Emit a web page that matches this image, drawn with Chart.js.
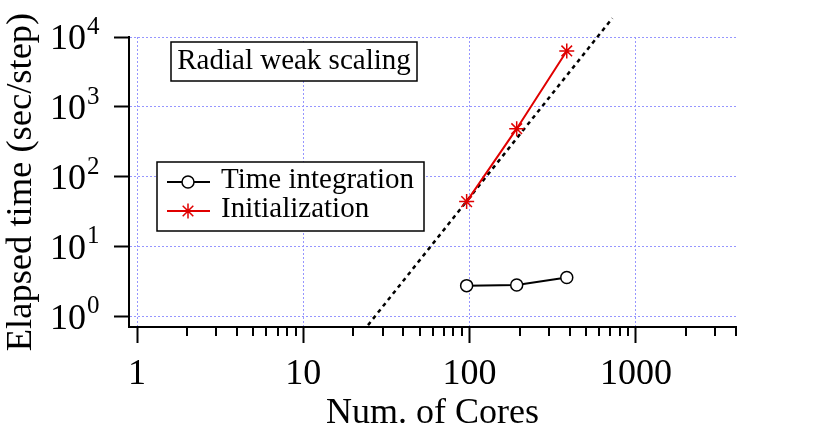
<!DOCTYPE html>
<html>
<head>
<meta charset="utf-8">
<script src="https://cdn.jsdelivr.net/npm/chart.js@4.4.1/dist/chart.umd.min.js"></script>
<style>
  html, body { margin: 0; padding: 0; background: #fff; }
</style>
</head>
<body>
<canvas id="chart" width="820" height="431"></canvas>
<script>
// data
var cores = [96, 192, 384];
var timeIntegration = [2.74, 2.79, 3.59];
var initialization = [43.8, 486, 6310];
// guide line (dotted), its two ends
var idealCores = [24.5, 722];
var idealTime = [0.745, 18600];

var xMajorTicks = [1, 10, 100, 1000];
var xTickLabels = ['1', '10', '100', '1000'];
var xMinorTicks = [2, 3, 4, 5, 6, 7, 8, 9, 20, 30, 40, 50, 60, 70, 80, 90,
                   200, 300, 400, 500, 600, 700, 800, 900, 2000, 3000, 4000];
var yTicks = [1, 10, 100, 1000, 10000];
var yExponents = ['0', '1', '2', '3', '4'];

var serif = '"Liberation Serif", "Times New Roman", serif';
var gridColor = 'rgb(150,150,255)';
var red = '#e00000';

function toPoints(xs, ys) {
    var pts = [];
    for (var i = 0; i < xs.length; i++) {
        pts.push({x: xs[i], y: ys[i]});
    }
    return pts;
}

function isMajor(v) {
    return xMajorTicks.indexOf(v) >= 0;
}

// short minor ticks on x, exponents on y, title and legend boxes
var extrasPlugin = {
    id: 'extras',
    afterDraw: function(chart) {
        var ctx = chart.ctx;
        var xs = chart.scales.x, ys = chart.scales.y;
        ctx.save();
        ctx.strokeStyle = '#000';
        ctx.lineWidth = 2;
        xMinorTicks.forEach(function(v) {
            var px = Math.round(xs.getPixelForValue(v));
            ctx.beginPath();
            ctx.moveTo(px, xs.top);
            ctx.lineTo(px, xs.top + 9);
            ctx.stroke();
        });

        ctx.fillStyle = '#000';
        ctx.font = '25px ' + serif;
        ctx.textAlign = 'left';
        ctx.textBaseline = 'alphabetic';
        yTicks.forEach(function(v, i) {
            var py = ys.getPixelForValue(v);
            ctx.fillText(yExponents[i], 87, py - 3);
        });

        var a = chart.chartArea;
        // title box
        ctx.lineWidth = 1.5;
        ctx.fillStyle = '#fff';
        ctx.fillRect(a.left + 42, 42, 246, 39);
        ctx.strokeRect(a.left + 42, 42, 246, 39);
        ctx.fillStyle = '#000';
        ctx.font = '29px ' + serif;
        ctx.textAlign = 'center';
        ctx.textBaseline = 'middle';
        ctx.fillText('Radial weak scaling', a.left + 165, 61);

        // legend box
        ctx.fillStyle = '#fff';
        ctx.fillRect(a.left + 28, 162, 267, 69);
        ctx.strokeRect(a.left + 28, 162, 267, 69);
        var rows = [182, 211];
        for (var i = 0; i < 2; i++) {
            var ds = chart.data.datasets[i];
            var ry = rows[i];
            ctx.strokeStyle = ds.borderColor;
            ctx.lineWidth = 2;
            ctx.beginPath();
            ctx.moveTo(a.left + 38, ry);
            ctx.lineTo(a.left + 81, ry);
            ctx.stroke();
            ctx.fillStyle = ds.pointBackgroundColor;
            ctx.lineWidth = ds.pointBorderWidth;
            Chart.helpers.drawPoint(ctx, {
                pointStyle: ds.pointStyle,
                radius: ds.pointRadius,
                rotation: 0,
                borderWidth: ds.pointBorderWidth
            }, a.left + 59, ry);
            ctx.fillStyle = '#000';
            ctx.font = '29px ' + serif;
            ctx.textAlign = 'left';
            ctx.textBaseline = 'middle';
            ctx.fillText(ds.label, a.left + 92, ry - 2);
        }
        ctx.restore();
    }
};

var ctx = document.getElementById('chart').getContext('2d');
var chart = new Chart(ctx, {
    type: 'scatter',
    data: {
        datasets: [{
            label: 'Time integration',
            data: toPoints(cores, timeIntegration),
            showLine: true,
            borderColor: '#000',
            borderWidth: 2,
            pointStyle: 'circle',
            pointRadius: 6,
            pointBorderWidth: 1.5,
            pointBorderColor: '#000',
            pointBackgroundColor: '#fff'
        }, {
            label: 'Initialization',
            data: toPoints(cores, initialization),
            showLine: true,
            borderColor: red,
            borderWidth: 2,
            pointStyle: 'star',
            pointRadius: 7.5,
            pointBorderWidth: 1.5,
            pointBorderColor: red,
            pointBackgroundColor: red
        }, {
            label: 'ideal',
            data: toPoints(idealCores, idealTime),
            showLine: true,
            borderColor: '#000',
            borderWidth: 2.5,
            borderDash: [4, 4],
            pointRadius: 0,
            clip: false
        }]
    },
    options: {
        responsive: false,
        devicePixelRatio: 1,
        animation: false,
        layout: { padding: { top: 37, right: 84, bottom: -4, left: 0 } },
        plugins: {
            legend: { display: false },
            tooltip: { enabled: false }
        },
        scales: {
            x: {
                type: 'logarithmic',
                min: 0.895,
                max: 4000,
                afterBuildTicks: function(axis) {
                    var all = xMajorTicks.concat(xMinorTicks).sort(function(p, q) { return p - q; });
                    axis.ticks = all.map(function(v) { return {value: v}; });
                },
                afterFit: function(axis) {
                    axis.height = 108;
                    axis.paddingLeft = 0;
                    axis.paddingRight = 0;
                },
                ticks: {
                    autoSkip: false,
                    maxRotation: 0,
                    padding: 10,
                    color: '#000',
                    font: { family: serif, size: 36 },
                    callback: function(value) {
                        var k = xMajorTicks.indexOf(value);
                        return k >= 0 ? xTickLabels[k] : '';
                    }
                },
                grid: {
                    color: function(c) { return c.tick && isMajor(c.tick.value) ? gridColor : 'rgba(0,0,0,0)'; },
                    tickColor: function(c) { return c.tick && isMajor(c.tick.value) ? '#000' : 'rgba(0,0,0,0)'; },
                    lineWidth: 1,
                    tickLength: 16,
                    tickWidth: 2
                },
                border: { color: '#000', width: 2, dash: [2, 2] },
                title: {
                    display: true,
                    text: 'Num. of Cores',
                    color: '#000',
                    font: { family: serif, size: 36 },
                    padding: 0
                }
            },
            y: {
                type: 'logarithmic',
                min: 0.745,
                max: 10000,
                afterBuildTicks: function(axis) {
                    axis.ticks = yTicks.map(function(v) { return {value: v}; });
                },
                afterFit: function(axis) {
                    axis.width = 129;
                    axis.paddingTop = 0;
                    axis.paddingBottom = 0;
                },
                ticks: {
                    padding: 28,
                    labelOffset: 3,
                    color: '#000',
                    font: { family: serif, size: 36 },
                    callback: function() { return '10'; }
                },
                grid: {
                    color: gridColor,
                    tickColor: '#000',
                    lineWidth: 1,
                    tickLength: 15,
                    tickWidth: 2
                },
                border: { color: '#000', width: 2, dash: [2, 2] },
                title: {
                    display: true,
                    text: 'Elapsed time (sec/step)',
                    color: '#000',
                    font: { family: serif, size: 36.5 },
                    padding: 0
                }
            }
        }
    },
    plugins: [extrasPlugin]
});
</script>
</body>
</html>
